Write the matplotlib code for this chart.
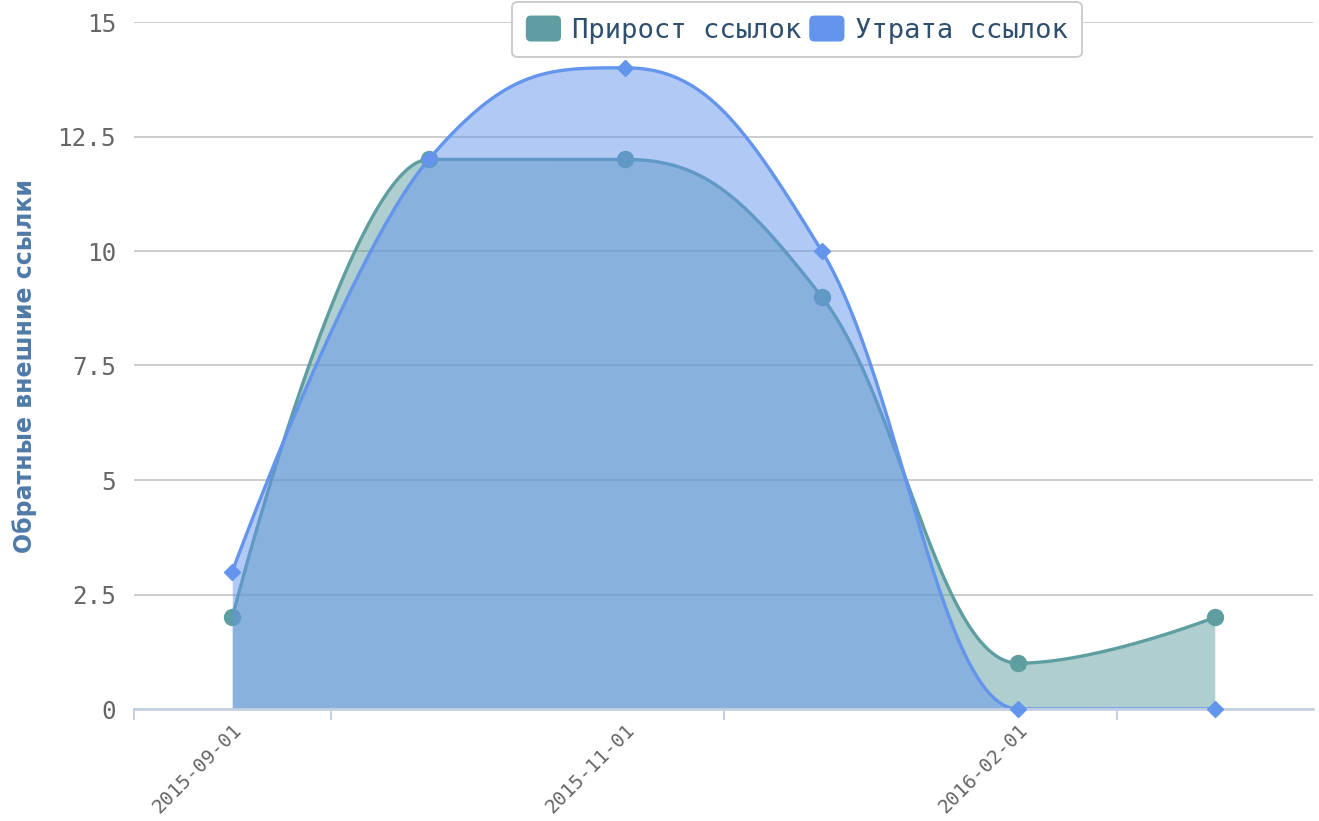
import numpy as np
import matplotlib.pyplot as plt
from matplotlib.patches import Patch, FancyBboxPatch
from matplotlib.legend_handler import HandlerPatch

# data
dates = ['2015-09-01', '2015-10-01', '2015-11-01', '2015-12-01', '2016-02-01', '2016-03-01']
shown_labels = ['2015-09-01', '', '2015-11-01', '', '2016-02-01', '']
growth = [2, 12, 12, 9, 1, 2]
loss = [3, 12, 14, 10, 0, 0]

green = '#5f9ea0'
blue = '#6495ed'


def spline(vals, n=60):
    # highcharts-style spline (smoothing 1.5, no false extremes)
    xs = np.arange(len(vals), dtype=float)
    ys = np.asarray(vals, dtype=float)
    m = len(ys)
    left = [None] * m
    right = [None] * m
    sm = 1.5
    den = sm + 1
    for i in range(1, m - 1):
        px, py = xs[i], ys[i]
        lx, ly = xs[i - 1], ys[i - 1]
        nx, ny = xs[i + 1], ys[i + 1]
        lcx = (sm * px + lx) / den
        lcy = (sm * py + ly) / den
        rcx = (sm * px + nx) / den
        rcy = (sm * py + ny) / den
        corr = (rcy - lcy) * (rcx - px) / (rcx - lcx) + py - rcy
        lcy += corr
        rcy += corr
        if lcy > ly and lcy > py:
            lcy = max(ly, py)
            rcy = 2 * py - lcy
        elif lcy < ly and lcy < py:
            lcy = min(ly, py)
            rcy = 2 * py - lcy
        if rcy > ny and rcy > py:
            rcy = max(ny, py)
            lcy = 2 * py - rcy
        elif rcy < ny and rcy < py:
            rcy = min(ny, py)
            lcy = 2 * py - rcy
        left[i] = (lcx, lcy)
        right[i] = (rcx, rcy)
    u = np.linspace(0, 1, n)[:, None]
    out = []
    for i in range(1, m):
        p0 = np.array([xs[i - 1], ys[i - 1]])
        p3 = np.array([xs[i], ys[i]])
        p1 = np.array(right[i - 1]) if right[i - 1] else p0
        p2 = np.array(left[i]) if left[i] else p3
        out.append((1 - u) ** 3 * p0 + 3 * (1 - u) ** 2 * u * p1 + 3 * (1 - u) * u ** 2 * p2 + u ** 3 * p3)
    out = np.vstack(out)
    return out[:, 0], out[:, 1]


class RoundHandler(HandlerPatch):
    def create_artists(self, legend, orig_handle, xdescent, ydescent, width, height, fontsize, trans):
        p = FancyBboxPatch((-xdescent, -ydescent), width, height,
                           boxstyle='round,pad=0,rounding_size=%f' % (height * 0.2),
                           facecolor=orig_handle.get_facecolor(), edgecolor='none',
                           transform=trans)
        return [p]


fig = plt.figure(figsize=(13.19, 8.21), dpi=100)
ax = fig.add_axes([134 / 1319, 1 - 709 / 821, 1179 / 1319, 687 / 821])

x = np.arange(len(dates))

gx, gy = spline(growth)
ax.fill_between(gx, 0, gy, color=green, alpha=0.5, lw=0, zorder=2)
ax.plot(gx, gy, color=green, lw=2.4, zorder=3)
ax.plot(x, growth, 'o', color=green, ms=11.5, zorder=4, clip_on=False)

bx, by = spline(loss)
ax.fill_between(bx, 0, by, color=blue, alpha=0.5, lw=0, zorder=5)
ax.plot(bx, by, color=blue, lw=2.4, zorder=6)
ax.plot(x, loss, 'D', color=blue, ms=8.5, zorder=9, clip_on=False)

ax.set_xlim(-0.5, 5.5)
ax.set_ylim(0, 15)
ax.set_yticks(np.arange(0, 15.1, 2.5))
ax.set_yticklabels(['0', '2.5', '5', '7.5', '10', '12.5', '15'],
                   fontsize=17.5, color='#666666', family='DejaVu Sans Mono')
ax.tick_params(axis='y', length=0, pad=13)
ax.grid(axis='y', color='#cccccc', lw=1.4, zorder=0)

ax.set_xticks(x)
ax.set_xticklabels(shown_labels, rotation=45, ha='right', rotation_mode='anchor',
                   fontsize=14, color='#666666', family='DejaVu Sans Mono')
ax.tick_params(axis='x', length=0, pad=8)
ax.set_xticks([-0.5, 0.5, 2.5, 4.5], minor=True)
ax.tick_params(axis='x', which='minor', length=8, width=1.4, color='#c4d0e2')

for side in ['top', 'right', 'left']:
    ax.spines[side].set_visible(False)
ax.spines['bottom'].set_color('#c4d0e2')
ax.spines['bottom'].set_linewidth(2)
ax.spines['bottom'].set_zorder(8)

ax.set_ylabel('Обратные внешние ссылки', fontsize=17, fontweight='bold',
              color='#4f7aa8', labelpad=15)

handles = [Patch(facecolor=green), Patch(facecolor=blue)]
leg = fig.legend(handles, ['Прирост ссылок', 'Утрата ссылок'], loc='upper center',
                 bbox_to_anchor=(797 / 1319, 1 - 2 / 821), ncol=2, frameon=True,
                 fancybox=True, edgecolor='#cccccc', framealpha=1,
                 prop={'family': 'DejaVu Sans Mono', 'size': 19.5},
                 handlelength=1.3, handleheight=1.1, handletextpad=0.4,
                 columnspacing=0.3, borderpad=0.5, borderaxespad=0,
                 handler_map={Patch: RoundHandler()})
leg.get_frame().set_linewidth(1.4)
for txt in leg.get_texts():
    txt.set_color('#2f4f6f')

fig.savefig('out.png', dpi=100)
